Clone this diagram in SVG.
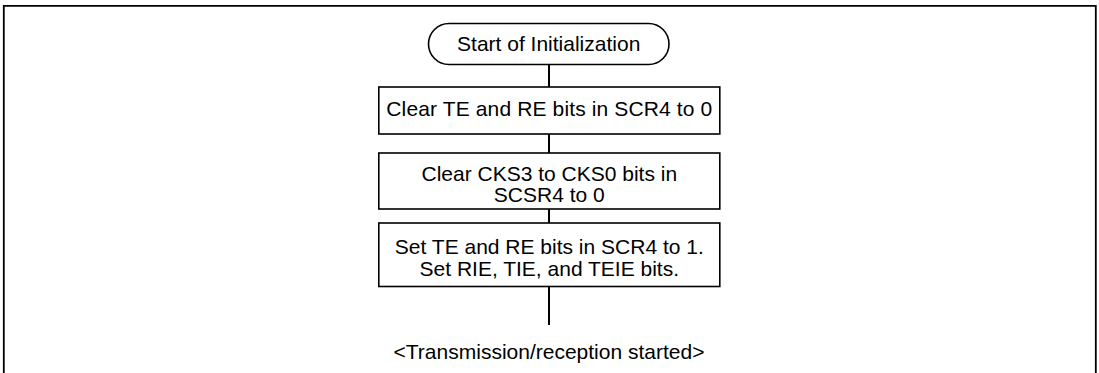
<svg xmlns="http://www.w3.org/2000/svg" width="1099" height="373" viewBox="0 0 1099 373">
<style>
.frame{fill:none;stroke:#000;stroke-width:1.8}
.box{fill:#fff;stroke:#000;stroke-width:1.6}
.conn{stroke:#000;stroke-width:2;fill:none}
text{font-family:"Liberation Sans",Arial,sans-serif;font-size:21px;fill:#000;text-anchor:middle}
</style>
<rect width="1099" height="373" fill="#fff"/>
<path class="frame" d="M3.8 380 V5.8 H1095.8 V380"/>
<g id="connectors">
<line class="conn" x1="549" y1="64" x2="549" y2="87"/>
<line class="conn" x1="549" y1="134" x2="549" y2="153"/>
<line class="conn" x1="549" y1="209" x2="549" y2="223"/>
<line class="conn" x1="549" y1="286" x2="549" y2="325"/>
</g>
<g id="start">
<rect class="box" x="428.5" y="23.5" width="240.5" height="41" rx="20.5" ry="20.5"/>
<text x="548.7" y="51">Start of Initialization</text>
</g>
<g id="step1">
<rect class="box" x="378.8" y="87" width="341" height="47"/>
<text x="549.3" y="115.5" textLength="326" lengthAdjust="spacing">Clear TE and RE bits in SCR4 to 0</text>
</g>
<g id="step2">
<rect class="box" x="378.8" y="153" width="341" height="56"/>
<text x="549.3" y="180.5">Clear CKS3 to CKS0 bits in</text>
<text x="549.3" y="202">SCSR4 to 0</text>
</g>
<g id="step3">
<rect class="box" x="378.8" y="223" width="341" height="63.5"/>
<text x="549.3" y="253.5">Set TE and RE bits in SCR4 to 1.</text>
<text x="549.3" y="275.5">Set RIE, TIE, and TEIE bits.</text>
</g>
<g id="end">
<text x="549" y="359">&lt;Transmission/reception started&gt;</text>
</g>
</svg>
